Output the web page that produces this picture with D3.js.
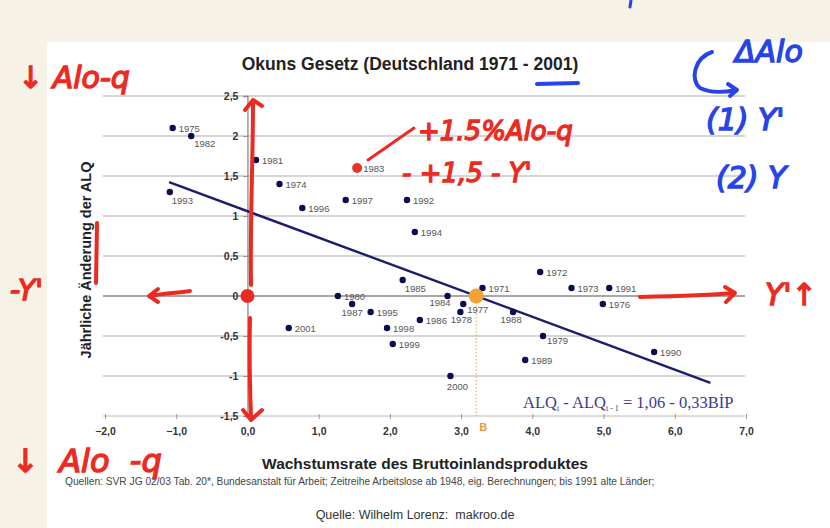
<!DOCTYPE html>
<html>
<head>
<meta charset="utf-8">
<script src="https://cdn.jsdelivr.net/npm/d3@7"></script>
<style>
  body { margin: 0; background: #f6f2e6; }
  svg { display: block; font-family: "Liberation Sans", Arial, sans-serif; }
</style>
</head>
<body>
<div id="chart"></div>
<script>
// Okun data: GDP growth (x) vs change of unemployment rate (y)
const years = [1971, 1972, 1973, 1974, 1975, 1976, 1977, 1978, 1979, 1980,
  1981, 1982, 1983, 1984, 1985, 1986, 1987, 1988, 1989, 1990,
  1991, 1992, 1993, 1994, 1995, 1996, 1997, 1998, 1999, 2000, 2001]
const growth = [3.30, 4.11, 4.55, 0.45, -1.05, 4.99, 3.03, 2.99, 4.15, 1.27,
  0.12, -0.79, 1.54, 2.81, 2.18, 2.42, 1.47, 3.73, 3.90, 5.71,
  5.08, 2.24, -1.09, 2.35, 1.73, 0.77, 1.38, 1.96, 2.04, 2.85, 0.58]
const alqChange = [0.1, 0.3, 0.1, 1.4, 2.1, -0.1, -0.1, -0.2, -0.5, 0.0,
  1.7, 2.0, 1.6, 0.0, 0.2, -0.3, -0.1, -0.2, -0.8, -0.7,
  0.1, 1.2, 1.3, 0.8, -0.2, 1.1, 1.2, -0.4, -0.6, -1.0, -0.4]

const xTicks = [-2, -1, 0, 1, 2, 3, 4, 5, 6, 7]
const yTicks = [-1.5, -1, -0.5, 0, 0.5, 1, 1.5, 2, 2.5]

// regression ALQt - ALQt-1 = 1,06 - 0,33 BIP
const intercept = 1.06
const slope = -0.33
const lineRange = [-1.1, 6.5]

const W = 830, H = 528
const data = years.map((yr, i) => ({ year: yr, x: growth[i], y: alqChange[i] }))

// label placement for points whose label is not to the right
const below = { 1982: [3, 11, "start"], 1993: [2, 12, "start"], 1985: [2, 12, "start"],
  1987: [0, 12, "middle"], 1984: [3, 10, "end"], 1977: [4, 9, "start"],
  1978: [1, 11, "middle"], 1988: [-2, 11, "middle"], 1979: [4, 8, "start"],
  2000: [7, 14, "middle"] }

const svg = d3.select("#chart").append("svg")
  .attr("width", W).attr("height", H)

// white sheet on beige page
svg.append("rect").attr("x", 47).attr("y", 42).attr("width", W - 47).attr("height", H - 42)
  .attr("fill", "#fff")

const x = d3.scaleLinear().domain([-2, 7]).range([105, 746])
const y = d3.scaleLinear().domain([-1.5, 2.5]).range([416, 96])
const fmt = d => d3.format(".1f")(d).replace(".", ",")
const fmtY = d => String(d).replace(".", ",")

// gridlines
svg.append("g").selectAll("line").data(yTicks.filter(d => d !== 0 && d !== -1.5)).enter()
  .append("line")
  .attr("x1", 103).attr("x2", 745)
  .attr("y1", d => y(d)).attr("y2", d => y(d))
  .attr("stroke", "#c9c9c9").attr("stroke-width", 1.3)

// zero line
svg.append("line").attr("x1", 103).attr("x2", 745)
  .attr("y1", y(0)).attr("y2", y(0))
  .attr("stroke", "#8a8a8a").attr("stroke-width", 1.3)

// x axis along the bottom
const xAxis = svg.append("g")
  .attr("transform", "translate(0," + y(-1.5) + ")")
  .call(d3.axisBottom(x).tickValues(xTicks).tickSize(3).tickPadding(9).tickFormat(fmt))
xAxis.select(".domain").attr("stroke", "#b8b8b8").attr("d", "M103,0H745")
xAxis.selectAll(".tick line").attr("stroke", "#999").attr("y1", -2)
xAxis.selectAll("text").attr("font-size", 10.5).attr("font-weight", "bold").attr("fill", "#333")

// y axis at x = 0
const yAxis = svg.append("g")
  .attr("transform", "translate(" + x(0) + ",0)")
  .call(d3.axisLeft(y).tickValues(yTicks).tickSize(4).tickPadding(5).tickFormat(fmtY))
yAxis.select(".domain").attr("stroke", "#8a8a8a").attr("stroke-width", 1.3)
yAxis.selectAll(".tick line").attr("stroke", "#8a8a8a")
yAxis.selectAll("text").attr("font-size", 10.5).attr("font-weight", "bold").attr("fill", "#333")

// regression line
svg.append("line")
  .attr("x1", x(lineRange[0])).attr("y1", y(intercept + slope * lineRange[0]))
  .attr("x2", x(lineRange[1])).attr("y2", y(intercept + slope * lineRange[1]))
  .attr("stroke", "#1c1c6e").attr("stroke-width", 2.4)

// orange point B where the line crosses zero
const xB = -intercept / slope
svg.append("line")
  .attr("x1", x(xB)).attr("x2", x(xB))
  .attr("y1", y(0)).attr("y2", y(-1.5))
  .attr("stroke", "#e0a050").attr("stroke-width", 1).attr("stroke-dasharray", "1.5,2")
svg.append("text").attr("x", x(xB) + 3).attr("y", 431)
  .attr("font-size", 11).attr("font-weight", "bold").attr("fill", "#e69a3a").text("B")

// points
svg.append("g").selectAll("circle").data(data).enter()
  .append("circle")
  .attr("cx", d => x(d.x)).attr("cy", d => y(d.y))
  .attr("r", d => d.year === 1983 ? 5 : 3.2)
  .attr("fill", d => d.year === 1983 ? "#e8322a" : "#0c0c52")

svg.append("g").selectAll("text").data(data).enter()
  .append("text")
  .attr("x", d => x(d.x) + (below[d.year] ? below[d.year][0] : 6))
  .attr("y", d => y(d.y) + (below[d.year] ? below[d.year][1] : 3.5))
  .attr("text-anchor", d => below[d.year] ? below[d.year][2] : "start")
  .attr("font-size", 9.5).attr("fill", "#555")
  .text(d => d.year)

svg.append("circle").attr("cx", x(xB)).attr("cy", y(0)).attr("r", 7.5).attr("fill", "#f3a235")

// equation
const eq = svg.append("text").attr("x", 523).attr("y", 408)
  .attr("font-family", "'Liberation Serif', 'DejaVu Serif', serif")
  .attr("font-size", 16.5).attr("fill", "#3a3a8c")
eq.append("tspan").text("ALQ")
eq.append("tspan").attr("font-size", 8).attr("dy", 3).text("t")
eq.append("tspan").attr("dy", -3).text(" - ALQ")
eq.append("tspan").attr("font-size", 8).attr("dy", 3).text("t - 1")
eq.append("tspan").attr("dy", -3).text(" = 1,06 - 0,33BİP")

// titles
svg.append("text").attr("x", 410).attr("y", 70).attr("text-anchor", "middle")
  .attr("font-size", 17.5).attr("font-weight", "bold").attr("fill", "#222")
  .text("Okuns Gesetz (Deutschland 1971 - 2001)")
svg.append("text").attr("x", 425).attr("y", 469).attr("text-anchor", "middle")
  .attr("font-size", 15.5).attr("font-weight", "bold").attr("fill", "#222")
  .text("Wachstumsrate des Bruttoinlandsproduktes")
svg.append("text").attr("transform", "translate(91,260) rotate(-90)").attr("text-anchor", "middle")
  .attr("font-size", 14.5).attr("font-weight", "bold").attr("fill", "#222")
  .text("Jährliche Änderung der ALQ")
svg.append("text").attr("x", 65).attr("y", 485)
  .attr("font-size", 10.2).attr("fill", "#444")
  .text("Quellen: SVR JG 02/03 Tab. 20*, Bundesanstalt für Arbeit; Zeitreihe Arbeitslose ab 1948, eig. Berechnungen; bis 1991 alte Länder;")
svg.append("text").attr("x", 415).attr("y", 519).attr("text-anchor", "middle")
  .attr("font-size", 12.5).attr("fill", "#333").style("white-space", "pre")
  .text("Quelle: Wilhelm Lorenz:  makroo.de")

// handwritten annotations
const RED = "#ec2a22", BLUE = "#2744e8"
const ink = svg.append("g").attr("fill", "none").attr("stroke-linecap", "round").attr("stroke-linejoin", "round")
const pen = (d, c, w) => ink.append("path").attr("d", d).attr("stroke", c).attr("stroke-width", w || 4)

pen("M251,285 C250,220 253,160 253,102 M245,110 L253,100 L262,106", RED)
pen("M250,318 C249,360 250,390 251,418 M243,410 L251,420 L262,410", RED)
svg.append("circle").attr("cx", x(0)).attr("cy", y(0)).attr("r", 7).attr("fill", RED)
pen("M190,291 C175,293 160,294 150,296 M158,289 L149,296 L158,302", RED)
pen("M640,297 C680,296 710,295 734,293 M725,287 L735,293 L726,302", RED)
pen("M97,223 L96,283", RED)
pen("M368,160 L414,128", RED, 3)
pen("M537,84 L578,83", BLUE, 4)
pen("M631,0 L630,7", BLUE, 3)
pen("M712,52 C694,58 690,80 700,88 C712,94 726,92 736,90 M728,84 L737,90 L730,96", BLUE, 4)

const hand = (tx, ty, s, txt, c) => svg.append("text").attr("x", tx).attr("y", ty)
  .attr("font-family", "'DejaVu Sans', sans-serif").attr("font-style", "italic")
  .attr("font-size", s).attr("fill", c).attr("stroke", c).attr("stroke-width", 1.4)
  .style("white-space", "pre")
  .text(txt)

hand(18, 88, 30, "↓ Alo-q", RED)
hand(10, 300, 28, "-Y'", RED)
hand(12, 472, 32, "↓  Alo  -q", RED)
hand(418, 140, 26, "+1.5%Alo-q", RED)
hand(402, 182, 26, "- +1,5 - Y'", RED)
hand(765, 305, 30, "Y'↑", RED)
hand(735, 62, 30, "ΔAlo", BLUE)
hand(706, 130, 30, "(1) Y'", BLUE)
hand(716, 188, 30, "(2) Y", BLUE)
</script>
</body>
</html>
